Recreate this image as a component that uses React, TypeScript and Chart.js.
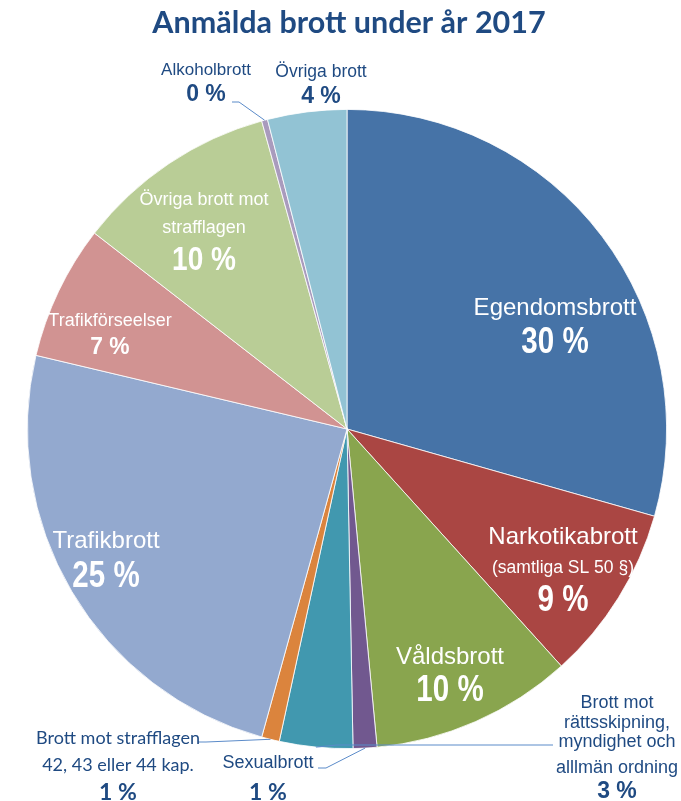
import React, { useEffect, useRef } from "react";
import { Chart, registerables } from "chart.js";

Chart.register(...registerables);

const categories = [
  "Egendomsbrott",
  "Narkotikabrott",
  "Våldsbrott",
  "Sexualbrott",
  "Brott mot rättsskipning, myndighet och alllmän ordning",
  "Brott mot strafflagen 42, 43 eller 44 kap.",
  "Trafikbrott",
  "Trafikförseelser",
  "Övriga brott mot strafflagen",
  "Alkoholbrott",
  "Övriga brott",
];
const shares = [29.4, 8.9, 10.2, 1.2, 3.7, 0.9, 24.4, 6.8, 10.2, 0.3, 4.0];
const percentLabels = ["30 %", "9 %", "10 %", "1 %", "3 %", "1 %", "25 %", "7 %", "10 %", "0 %", "4 %"];
const colors = [
  "#4673a7",
  "#aa4643",
  "#89a54e",
  "#71588f",
  "#4198af",
  "#db843d",
  "#93a9cf",
  "#d19392",
  "#b9cd96",
  "#a99bbd",
  "#92c3d4",
];

const TITLE = "Anmälda brott under år 2017";
const DARK = "#1f4a82";
const LEADER = "#5b8bc9";
const SANS = "'Liberation Sans', Arial, sans-serif";
const CAL = "Lato, 'Open Sans', sans-serif";

type Line = { t: string; font: string; dy: number; sx?: number };
type Lbl = { i: number; x: number; y: number; color: string; lines: Line[]; leader?: number[][] };

// label placement relative to chart centre (dx, dy) in px
const labels: Lbl[] = [
  { i: 0, x: 208, y: -121, color: "#fff", lines: [
    { t: "Egendomsbrott", font: `24px ${SANS}`, dy: 0 },
    { t: percentLabels[0], font: `bold 36px ${SANS}`, dy: 35, sx: 0.82 },
  ] },
  { i: 1, x: 216, y: 108, color: "#fff", lines: [
    { t: "Narkotikabrott", font: `24px ${SANS}`, dy: 0 },
    { t: "(samtliga SL 50 §)", font: `17.5px ${SANS}`, dy: 31 },
    { t: percentLabels[1], font: `bold 36px ${SANS}`, dy: 64, sx: 0.82 },
  ] },
  { i: 2, x: 103, y: 228, color: "#fff", lines: [
    { t: "Våldsbrott", font: `24px ${SANS}`, dy: 0 },
    { t: percentLabels[2], font: `bold 36px ${SANS}`, dy: 34, sx: 0.82 },
  ] },
  { i: 6, x: -241, y: 112, color: "#fff", lines: [
    { t: "Trafikbrott", font: `24px ${SANS}`, dy: 0 },
    { t: percentLabels[6], font: `bold 36px ${SANS}`, dy: 36, sx: 0.82 },
  ] },
  { i: 7, x: -237, y: -108, color: "#fff", lines: [
    { t: "Trafikförseelser", font: `18px ${SANS}`, dy: 0 },
    { t: percentLabels[7], font: `bold 24px ${SANS}`, dy: 26, sx: 0.95 },
  ] },
  { i: 8, x: -143, y: -229, color: "#fff", lines: [
    { t: "Övriga brott mot", font: `18px ${SANS}`, dy: 0 },
    { t: "strafflagen", font: `18px ${SANS}`, dy: 28 },
    { t: percentLabels[8], font: `bold 33px ${SANS}`, dy: 61, sx: 0.85 },
  ] },
  { i: 9, x: -141, y: -359, color: DARK, lines: [
    { t: "Alkoholbrott", font: `17px ${SANS}`, dy: 0 },
    { t: percentLabels[9], font: `bold 23px ${SANS}`, dy: 25 },
  ], leader: [[-115, -327], [-108, -327]] },
  { i: 10, x: -26, y: -357, color: DARK, lines: [
    { t: "Övriga brott", font: `17.5px ${SANS}`, dy: 0 },
    { t: percentLabels[10], font: `bold 23px ${SANS}`, dy: 25 },
  ] },
  { i: 5, x: -229, y: 309, color: DARK, lines: [
    { t: "Brott mot strafflagen", font: `18px ${CAL}`, dy: 0 },
    { t: "42, 43 eller 44 kap.", font: `18px ${CAL}`, dy: 27 },
    { t: percentLabels[5], font: `bold 23px ${CAL}`, dy: 55 },
  ], leader: [[-149, 313], [-141, 313]] },
  { i: 3, x: -79, y: 334, color: DARK, lines: [
    { t: "Sexualbrott", font: `18px ${SANS}`, dy: 0 },
    { t: percentLabels[3], font: `bold 23px ${CAL}`, dy: 30 },
  ], leader: [[-29, 339], [-21, 339]] },
  { i: 4, x: 270, y: 274, color: DARK, lines: [
    { t: "Brott mot", font: `18px ${SANS}`, dy: 0 },
    { t: "rättsskipning,", font: `18px ${SANS}`, dy: 20 },
    { t: "myndighet och", font: `18px ${SANS}`, dy: 39 },
    { t: "alllmän ordning", font: `18px ${SANS}`, dy: 65 },
    { t: percentLabels[4], font: `bold 23px ${SANS}`, dy: 89 },
  ], leader: [[206, 316], [-10, 316]] },
];

const labelPlugin = {
  id: "customLabels",
  afterDraw(chart: any) {
    const ctx = chart.ctx as CanvasRenderingContext2D;
    const meta = chart.getDatasetMeta(0);
    const arc0 = meta.data[0];
    const cx = arc0.x;
    const cy = arc0.y;
    ctx.save();
    // title
    ctx.fillStyle = DARK;
    ctx.font = `bold 30.5px ${CAL}`;
    ctx.textAlign = "center";
    ctx.textBaseline = "middle";
    ctx.fillText(TITLE, cx + 2, 23);

    for (const l of labels) {
      const arc = meta.data[l.i];
      if (l.leader) {
        const mid = (arc.startAngle + arc.endAngle) / 2;
        const r = arc.outerRadius;
        const ex = arc.x + Math.cos(mid) * r;
        const ey = arc.y + Math.sin(mid) * r;
        ctx.strokeStyle = LEADER;
        ctx.lineWidth = 1;
        ctx.beginPath();
        ctx.moveTo(cx + l.leader[0][0], cy + l.leader[0][1]);
        for (let k = 1; k < l.leader.length; k++) ctx.lineTo(cx + l.leader[k][0], cy + l.leader[k][1]);
        ctx.lineTo(ex, ey);
        ctx.stroke();
      }
      ctx.fillStyle = l.color;
      for (const ln of l.lines) {
        ctx.font = ln.font;
        const px = cx + l.x;
        const py = cy + l.y + ln.dy;
        if (ln.sx) {
          ctx.save();
          ctx.translate(px, py);
          ctx.scale(ln.sx, 1);
          ctx.fillText(ln.t, 0, 0);
          ctx.restore();
        } else {
          ctx.fillText(ln.t, px, py);
        }
      }
    }
    ctx.restore();
  },
};

export default function App() {
  const ref = useRef<HTMLCanvasElement>(null);
  useEffect(() => {
    document.body.style.margin = "0";
    const chart = new Chart(ref.current!, {
      type: "pie",
      data: {
        labels: categories,
        datasets: [
          {
            data: shares,
            backgroundColor: colors,
            borderColor: "#ffffff",
            borderWidth: 0.8,
            hoverOffset: 0,
          },
        ],
      },
      options: {
        responsive: false,
        animation: false,
        layout: { padding: { left: 27, right: 14, top: 109, bottom: 52 } },
        plugins: {
          legend: { display: false },
          title: { display: false },
          tooltip: { enabled: false },
        },
      },
      plugins: [labelPlugin],
    });
    return () => chart.destroy();
  }, []);
  return (
    <div style={{ width: 681, height: 801 }}>
      <canvas ref={ref} width={681} height={801} style={{ display: "block" }} />
    </div>
  );
}
